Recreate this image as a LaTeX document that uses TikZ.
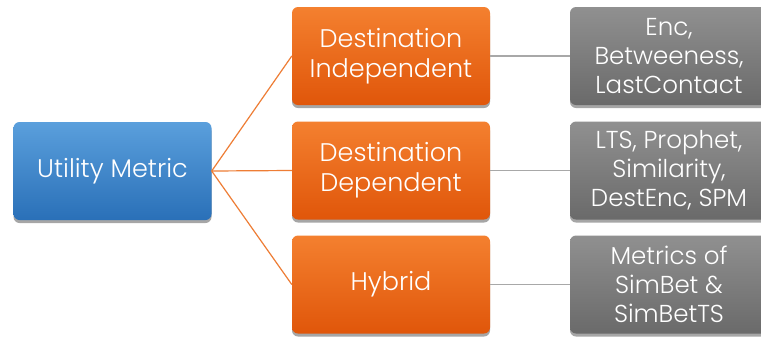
\documentclass[tikz,border=0pt]{standalone}
\usepackage{fontspec}
\setmainfont{Poppins Light}
\usetikzlibrary{shadows}
\definecolor{bluetop}{HTML}{5A9FDC}
\definecolor{bluebot}{HTML}{2A70B8}
\definecolor{orgtop}{HTML}{F4802F}
\definecolor{orgbot}{HTML}{E0560A}
\definecolor{graytop}{HTML}{909090}
\definecolor{graybot}{HTML}{6A6A6A}
\definecolor{orgline}{HTML}{EE7D35}
\definecolor{grayline}{HTML}{A8A8A8}
\tikzset{
  box/.style={rectangle, rounded corners=6pt, minimum width=198pt, minimum height=98pt,
    text=white, align=center, inner sep=0pt,
    font=\fontsize{25.5}{30}\selectfont,
    drop shadow={shadow xshift=0pt, shadow yshift=-3pt, opacity=0.35, fill=black}},
  bluebox/.style={box, top color=bluetop, bottom color=bluebot},
  orgbox/.style={box, top color=orgtop, bottom color=orgbot},
  graybox/.style={box, top color=graytop, bottom color=graybot, font=\fontsize{24.5}{29}\selectfont},
  orgconn/.style={draw=orgline, line width=1.2pt},
  grayconn/.style={draw=grayline, line width=1.2pt}
}
\begin{document}
\begin{tikzpicture}[x=1pt,y=-1pt]
\useasboundingbox (0,0) rectangle (761,338);
\clip (0,0) rectangle (761,338);
\fill[white] (0,0) rectangle (761,338);
\node[bluebox] (um) at (112.5,171) {Utility Metric};
\node[orgbox] (di) at (391,56) {Destination\\Independent};
\node[orgbox] (dd) at (391,170.5) {Destination\\Dependent};
\node[orgbox] (hy) at (391,284.5) {Hybrid};
\node[graybox] (g1) at (669,56) {Enc,\\Betweeness,\\LastContact};
\node[graybox] (g2) at (669,170.5) {LTS, Prophet,\\Similarity,\\DestEnc, SPM};
\node[graybox] (g3) at (669,284.5) {Metrics of\\SimBet \&\\SimBetTS};
\draw[orgconn] (um.east) -- (di.west);
\draw[orgconn] (um.east) -- (dd.west);
\draw[orgconn] (um.east) -- (hy.west);
\draw[grayconn] (di.east) -- (g1.west);
\draw[grayconn] (dd.east) -- (g2.west);
\draw[grayconn] (hy.east) -- (g3.west);
\end{tikzpicture}
\end{document}
